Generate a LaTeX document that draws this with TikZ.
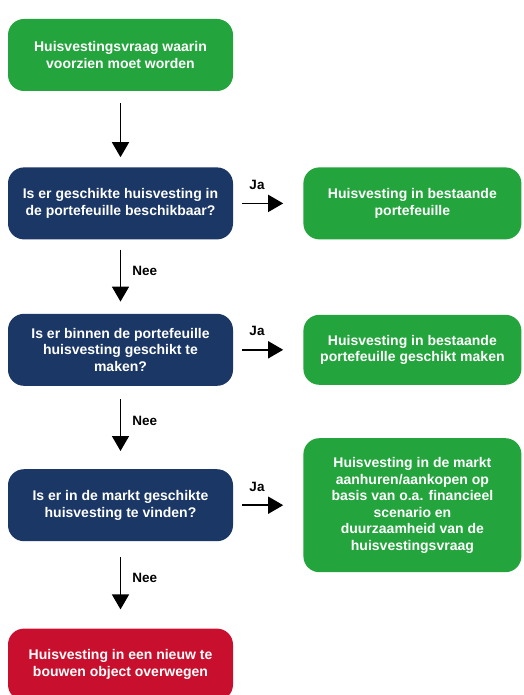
\documentclass[tikz,border=0pt]{standalone}
\usepackage{fontspec}
\setmainfont{Liberation Sans}
\usepackage{xcolor}
\usetikzlibrary{arrows.meta,positioning}
\definecolor{kgreen}{HTML}{23A43C}
\definecolor{knavy}{HTML}{1B3765}
\definecolor{kred}{HTML}{C8102E}

\begin{document}
\begin{tikzpicture}[
  x=1pt,y=1pt,
  font=\bfseries\fontsize{14}{16.5}\selectfont,
  node distance=76pt and 70pt,
  box/.style={rounded corners=16pt,text=white,align=center,minimum width=225pt,minimum height=72pt,inner sep=3pt},
  start/.style={box,fill=kgreen},
  vraag/.style={box,fill=knavy},
  uitk/.style={box,fill=kgreen,minimum width=218pt},
  eind/.style={box,fill=kred},
  ar/.style={-{Triangle[length=15pt,width=17pt]},line width=1.6pt},
  lbl/.style={font=\bfseries\fontsize{13.5}{15}\selectfont,inner sep=1pt}
]
\clip (0,0) rectangle (523,-695);
\node[start] (start) at (120.5,-55) {Huisvestingsvraag waarin\\voorzien moet worden};

\node[vraag,below=of start] (v1) {Is er geschikte huisvesting in\\de portefeuille beschikbaar?};
\node[uitk,right=of v1] (a1) {Huisvesting in bestaande\\portefeuille};

\node[vraag,below=74pt of v1] (v2) {Is er binnen de portefeuille\\huisvesting geschikt te\\maken?};
\node[uitk,right=of v2,minimum height=70pt] (a2) {Huisvesting in bestaande\\portefeuille geschikt maken};

\node[vraag,below=83pt of v2] (v3) {Is er in de markt geschikte\\huisvesting te vinden?};
\node[uitk,right=of v3,minimum height=134pt] (a3) {Huisvesting in de markt\\aanhuren/aankopen op\\basis van o.a. financieel\\scenario en\\duurzaamheid van de\\huisvestingsvraag};

\node[eind,below=87pt of v3] (eind) {Huisvesting in een nieuw te\\bouwen object overwegen};

\draw[ar,shorten <=12pt,shorten >=10pt] (start) -- (v1);
\draw[ar,shorten <=10pt,shorten >=12pt] (v1) -- node[lbl,pos=0.42,right=10pt] {Nee} (v2);
\draw[ar,shorten <=13pt,shorten >=18pt] (v2) -- node[lbl,pos=0.42,right=10pt] {Nee} (v3);
\draw[ar,shorten <=16pt,shorten >=19pt] (v3) -- node[lbl,pos=0.42,right=10pt] {Nee} (eind);

\draw[ar,shorten <=9pt,shorten >=20pt] (v1.east) -- node[lbl,pos=0.34,above=12pt] {Ja} (v1.east -| a1.west);
\draw[ar,shorten <=9pt,shorten >=20pt] (v2.east) -- node[lbl,pos=0.34,above=12pt] {Ja} (v2.east -| a2.west);
\draw[ar,shorten <=9pt,shorten >=20pt] (v3.east) -- node[lbl,pos=0.34,above=12pt] {Ja} (v3.east -| a3.west);
\end{tikzpicture}
\end{document}
